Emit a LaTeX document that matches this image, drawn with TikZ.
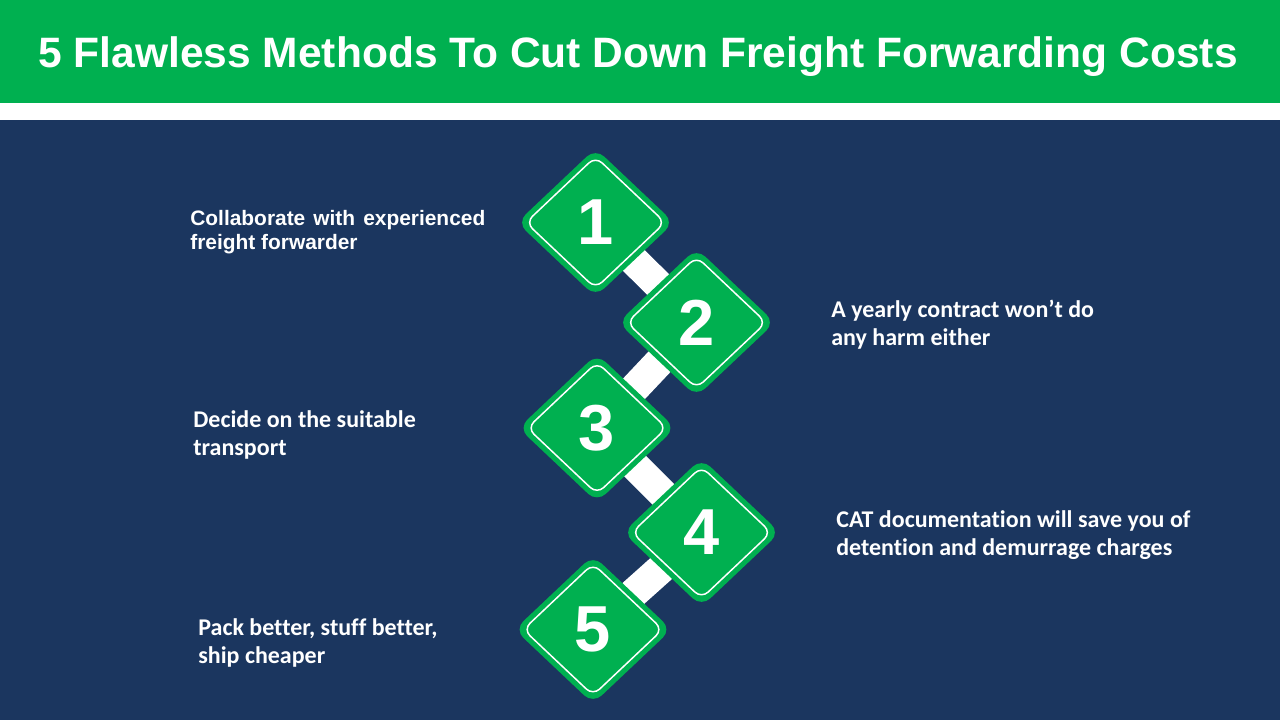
\documentclass[tikz,border=0pt]{standalone}
\usepackage{fontspec}
\setmainfont[Ligatures=NoCommon]{Carlito}
\newfontfamily\headfont{Liberation Sans}
\usepackage{tikz}
\usetikzlibrary{positioning}
\definecolor{leafgreen}{HTML}{00B050}
\definecolor{deepnavy}{HTML}{1B365F}

\begin{document}
\begin{tikzpicture}[
    x=0.02cm, y=-0.02cm,
    every node/.style={text=white},
    badge/.style={rectangle, fill=leafgreen, minimum size=2.22cm, inner sep=0pt,
                  outer sep=0pt, rounded corners=0.24cm, transform shape,
                  yscale=0.945, rotate=45},
    rim/.style={rectangle, draw=white, line width=0.85pt, minimum size=1.97cm,
                inner sep=0pt, outer sep=0pt, rounded corners=0.18cm,
                transform shape, yscale=0.945, rotate=45},
    num/.style={font=\headfont\bfseries\fontsize{37}{37}\selectfont, inner sep=0pt},
    bar/.style={white, line width=0.6cm},
    note/.style={anchor=base west, align=left, inner sep=0pt,
                 font=\bfseries\fontsize{13.65}{15.9}\selectfont},
  ]
    \useasboundingbox (0,0) rectangle (1280,720);
    \fill[leafgreen] (0,0) rectangle (1280,103);
    \fill[deepnavy] (0,120) rectangle (1280,720);
    \node[anchor=base, inner sep=0pt, font=\headfont\bfseries\fontsize{24.2}{26}\selectfont]
      (title) at (638,67) {5 Flawless Methods To Cut Down Freight Forwarding Costs};
    % step centres
    \foreach \k/\x/\y in {1/595.5/222.5, 2/696.5/322.5, 3/597/428, 4/701.5/532.5, 5/593/629.5}{
      \coordinate (c\k) at (\x,\y);}
    \foreach \a/\b in {1/2, 2/3, 3/4, 4/5}\draw[bar] (c\a) -- (c\b);
    \foreach \k in {1,...,5}{
      \node[badge] (s\k) at (c\k) {};
      \node[rim] (r\k) at (c\k) {};
      \node[num] (n\k) at (c\k) {\k};}
    \node[note, text width=5.9cm, align=justify,
          font=\headfont\bfseries\fontsize{11.9}{14.2}\selectfont]
      (t1) at (190,225) {Collaborate with experienced freight forwarder};
    \node[note] (t2) at (831,345) {A yearly contract won’t do\\ any harm either};
    \node[note] (t3) at (193,455) {Decide on the suitable\\ transport};
    \node[note] (t4) at (836,555) {CAT documentation will save you of\\ detention and demurrage charges};
    \node[note] (t5) at (198,663) {Pack better, stuff better,\\ ship cheaper};
  \end{tikzpicture}
\end{document}
